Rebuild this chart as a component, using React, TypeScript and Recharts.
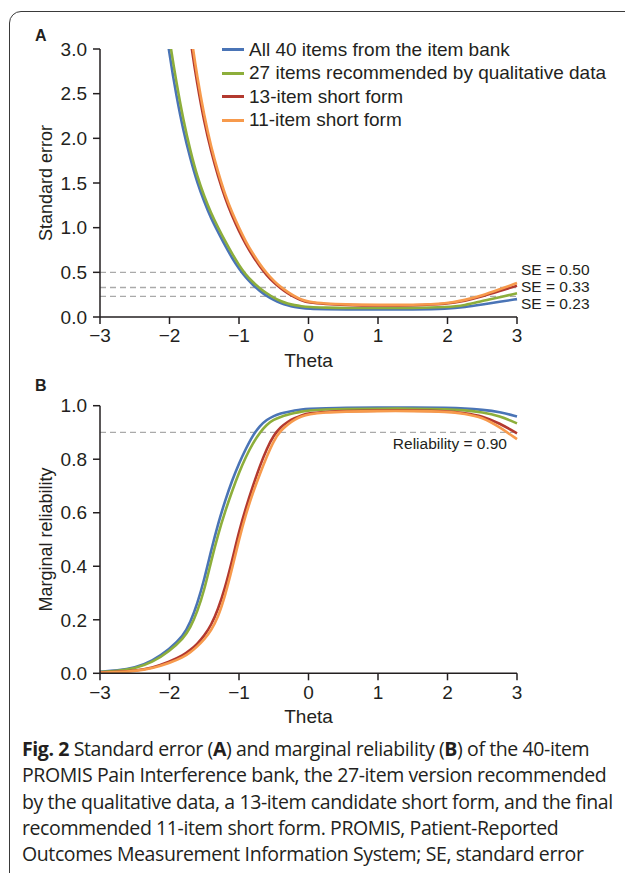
import React from 'react';
import { LineChart, Line, XAxis, YAxis, ReferenceLine } from 'recharts';

// Theta grids
const thetaSE = [-2.1, -2.0, -1.9, -1.8, -1.7, -1.6, -1.5, -1.4, -1.3, -1.2, -1.1, -1.0, -0.9, -0.8, -0.7, -0.6, -0.5, -0.4, -0.3, -0.2, -0.1, 0, 0.25, 0.5, 1, 1.5, 2, 2.25, 2.5, 2.75, 3];
const thetaRel = [-3, -2.75, -2.5, -2.25, -2, -1.8, -1.7, -1.6, -1.5, -1.4, -1.3, -1.2, -1.1, -1.0, -0.9, -0.8, -0.7, -0.6, -0.5, -0.4, -0.3, -0.2, -0.1, 0, 0.25, 0.5, 1, 1.5, 2, 2.25, 2.5, 2.75, 3];

// Panel A: standard error
const seAll40 = [3.5, 2.93, 2.47, 2.08, 1.77, 1.5, 1.29, 1.1, 0.95, 0.8, 0.66, 0.54, 0.44, 0.36, 0.29, 0.235, 0.19, 0.155, 0.13, 0.112, 0.1, 0.092, 0.087, 0.085, 0.085, 0.085, 0.09, 0.11, 0.14, 0.17, 0.2];
const se27 = [3.65, 3.1, 2.62, 2.2, 1.86, 1.57, 1.35, 1.16, 1.0, 0.85, 0.71, 0.58, 0.47, 0.39, 0.32, 0.265, 0.215, 0.178, 0.15, 0.132, 0.12, 0.112, 0.105, 0.1, 0.1, 0.1, 0.11, 0.13, 0.18, 0.22, 0.265];
const se13 = [null, null, null, 3.7, 3.1, 2.6, 2.18, 1.85, 1.57, 1.33, 1.13, 0.96, 0.81, 0.68, 0.565, 0.465, 0.385, 0.32, 0.265, 0.22, 0.185, 0.16, 0.145, 0.135, 0.127, 0.13, 0.145, 0.18, 0.23, 0.29, 0.35];
const se11 = [null, null, null, 3.85, 3.2, 2.68, 2.25, 1.9, 1.62, 1.37, 1.17, 1.0, 0.84, 0.71, 0.59, 0.49, 0.405, 0.335, 0.28, 0.23, 0.195, 0.17, 0.15, 0.14, 0.135, 0.135, 0.15, 0.19, 0.24, 0.31, 0.38];

// Panel B: marginal reliability
const relAll40 = [0.006, 0.01, 0.02, 0.045, 0.09, 0.14, 0.19, 0.26, 0.35, 0.46, 0.56, 0.645, 0.72, 0.785, 0.84, 0.89, 0.925, 0.948, 0.962, 0.971, 0.977, 0.982, 0.986, 0.988, 0.99, 0.992, 0.993, 0.993, 0.992, 0.99, 0.985, 0.977, 0.96];
const rel27 = [0.005, 0.009, 0.018, 0.04, 0.083, 0.13, 0.17, 0.23, 0.31, 0.42, 0.52, 0.605, 0.68, 0.75, 0.81, 0.86, 0.9, 0.93, 0.948, 0.958, 0.966, 0.973, 0.978, 0.982, 0.986, 0.988, 0.989, 0.989, 0.987, 0.983, 0.976, 0.962, 0.934];
const rel13 = [0.003, 0.005, 0.009, 0.02, 0.043, 0.068, 0.087, 0.11, 0.14, 0.18, 0.24, 0.32, 0.42, 0.53, 0.62, 0.7, 0.775, 0.84, 0.89, 0.92, 0.94, 0.954, 0.964, 0.972, 0.977, 0.98, 0.982, 0.982, 0.98, 0.972, 0.962, 0.934, 0.897];
const rel11 = [0.003, 0.004, 0.008, 0.018, 0.038, 0.06, 0.078, 0.1, 0.126, 0.16, 0.21, 0.29, 0.39, 0.5, 0.595, 0.675, 0.745, 0.81, 0.87, 0.907, 0.93, 0.948, 0.96, 0.968, 0.975, 0.978, 0.98, 0.98, 0.978, 0.97, 0.957, 0.92, 0.875];

const seRefs = [0.5, 0.33, 0.23];
const seRefLabels = ['SE = 0.50', 'SE = 0.33', 'SE = 0.23'];
const relRef = 0.9;

const xTicks = [-3, -2, -1, 0, 1, 2, 3];
const seTicks = [0, 0.5, 1, 1.5, 2, 2.5, 3];
const relTicks = [0, 0.2, 0.4, 0.6, 0.8, 1];

const series = [
  { key: 'all40', name: 'All 40 items from the item bank', color: '#4A74B6' },
  { key: 'q27', name: '27 items recommended by qualitative data', color: '#8DAE3B' },
  { key: 's13', name: '13-item short form', color: '#B3392F' },
  { key: 's11', name: '11-item short form', color: '#F79A4C' },
];

const seData = thetaSE.map((t, i) => ({ theta: t, all40: seAll40[i], q27: se27[i], s13: se13[i], s11: se11[i] }));
const relData = thetaRel.map((t, i) => ({ theta: t, all40: relAll40[i], q27: rel27[i], s13: rel13[i], s11: rel11[i] }));

const FONT = '"Liberation Sans", Arial, sans-serif';
const INK = '#231f20';
const minus = (v: number) => String(v).replace('-', '\u2212');

const yTitle = (text: string) => (props: any) => {
  const vb = props.viewBox;
  const x = vb.x + 6;
  const y = vb.y + vb.height / 2;
  return (
    <text x={x} y={y} transform={`rotate(-90 ${x} ${y})`} textAnchor="middle" dominantBaseline="central"
      fontSize={18} fill={INK} fontFamily={FONT}>{text}</text>
  );
};

const seLabel = (text: string, dy: number) => (props: any) => {
  const vb = props.viewBox;
  return (
    <text x={vb.x + vb.width + 4} y={vb.y + dy} dominantBaseline="central" fontSize={15.5} fill={INK} fontFamily={FONT}>{text}</text>
  );
};

const relLabel = (props: any) => {
  const vb = props.viewBox;
  return (
    <text x={vb.x + vb.width - 10} y={vb.y + 11} dominantBaseline="central" textAnchor="end" fontSize={15.5} fill={INK} fontFamily={FONT}>
      Reliability = 0.90
    </text>
  );
};

const axisBase = {
  axisLine: { stroke: INK, strokeWidth: 1.5 },
  tickLine: { stroke: INK, strokeWidth: 1.5 },
  tickSize: 7,
  fontSize: 19,
  fontFamily: FONT,
  tick: { fill: INK, fontSize: 19, fontFamily: FONT },
};
const xAxisProps = { ...axisBase, tickMargin: 5 };
const yAxisProps = { ...axisBase, tickMargin: 6 };

const xLabel = { value: 'Theta', position: 'insideBottom' as const, offset: 0, fill: INK, fontSize: 19, fontFamily: FONT };

const lines = () => series.map(s => (
  <Line key={s.key} dataKey={s.key} name={s.name} type="basis" stroke={s.color} strokeWidth={2.6}
    dot={false} activeDot={false} isAnimationActive={false} />
));

const App: React.FC = () => {
  return (
    <div style={{ position: 'absolute', left: 0, top: 0, width: 625, height: 873, overflow: 'hidden', background: '#fff', fontFamily: FONT }}>
      <div style={{ position: 'absolute', left: 9, top: 11, width: 800, height: 900, border: '1.5px solid #3a3a3a', borderRadius: 12 }} />
      <div style={{ position: 'absolute', left: 35, top: 27, fontSize: 16, fontWeight: 'bold', color: INK }}>A</div>
      <div style={{ position: 'absolute', left: 35, top: 377, fontSize: 16, fontWeight: 'bold', color: INK }}>B</div>

      <div style={{ position: 'absolute', left: 0, top: 0 }}>
        <LineChart width={625} height={380} data={seData} margin={{ top: 49, right: 108, bottom: 13, left: 40 }}>
          <XAxis dataKey="theta" type="number" domain={[-3, 3]} ticks={xTicks} tickFormatter={minus} height={50} label={xLabel} {...xAxisProps} />
          <YAxis type="number" domain={[0, 3]} allowDataOverflow ticks={seTicks} width={60} tickFormatter={(v: number) => v.toFixed(1)}
            label={{ content: yTitle('Standard error') }} {...yAxisProps} />
          {seRefs.map((v, i) => (
            <ReferenceLine key={v} y={v} stroke="#aaaaaa" strokeWidth={1.3} strokeDasharray="6 4"
              label={{ content: seLabel(seRefLabels[i], i === 0 ? -3 : i === 1 ? -1 : 7) }} />
          ))}
          {lines()}
        </LineChart>
      </div>

      <div style={{ position: 'absolute', left: 222, top: 38, fontFamily: FONT, fontSize: 19, color: INK }}>
        {series.map(s => (
          <div key={s.key} style={{ display: 'flex', alignItems: 'center', height: 23.5, whiteSpace: 'nowrap' }}>
            <span style={{ display: 'inline-block', width: 22, height: 3, background: s.color, marginRight: 5 }} />
            {s.name}
          </div>
        ))}
      </div>

      <div style={{ position: 'absolute', left: 0, top: 370 }}>
        <LineChart width={625} height={360} data={relData} margin={{ top: 35.7, right: 108, bottom: 6.7, left: 40 }}>
          <XAxis dataKey="theta" type="number" domain={[-3, 3]} ticks={xTicks} tickFormatter={minus} height={50} label={xLabel} {...xAxisProps} />
          <YAxis type="number" domain={[0, 1]} ticks={relTicks} width={60} tickFormatter={(v: number) => v.toFixed(1)}
            label={{ content: yTitle('Marginal reliability') }} {...yAxisProps} />
          <ReferenceLine y={relRef} stroke="#aaaaaa" strokeWidth={1.3} strokeDasharray="6 4" label={{ content: relLabel }} />
          {lines()}
        </LineChart>
      </div>

      <div style={{ position: 'absolute', left: 22, top: 736, fontFamily: '"Open Sans", "Noto Sans", sans-serif', fontSize: 19.5, lineHeight: '26.3px', color: INK, whiteSpace: 'nowrap', letterSpacing: -0.4 }}>
        <div><b>Fig. 2</b> Standard error (<b>A</b>) and marginal reliability (<b>B</b>) of the 40-item</div>
        <div>PROMIS Pain Interference bank, the 27-item version recommended</div>
        <div>by the qualitative data, a 13-item candidate short form, and the final</div>
        <div>recommended 11-item short form. PROMIS, Patient-Reported</div>
        <div>Outcomes Measurement Information System; SE, standard error</div>
      </div>
    </div>
  );
};

export default App;
